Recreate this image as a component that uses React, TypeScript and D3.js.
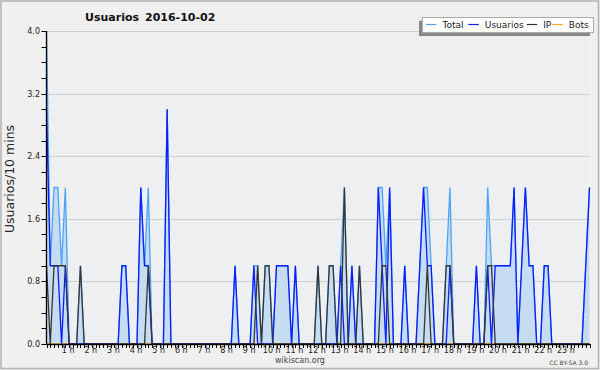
import React from 'react';
import * as d3 from 'd3';

// ---- data (10-minute steps, 00:00 .. 24:00) ----
const usuarios = [
  3,1,1,1,0,1,0,0,0,0,
  0,0,0,0,0,0,0,0,0,0,
  1,1,0,0,0,2,1,1,0,0,
  0,0,3,0,0,0,0,0,0,0,
  0,0,0,0,0,0,0,0,0,0,
  1,0,0,0,0,1,0,0,0,0,
  0,1,1,1,1,0,1,0,0,0,
  0,0,0,0,0,0,0,0,1,0,
  0,1,0,0,0,0,0,0,2,1,
  0,2,0,0,0,1,0,0,0,1,
  2,1,1,0,0,0,0,1,0,0,
  0,0,0,0,1,0,0,1,0,1,
  1,1,1,1,2,0,1,2,1,1,
  0,0,1,1,0,0,0,0,0,0,
  0,0,0,1,2,
];
const ip = [
  1,0,1,1,1,1,0,0,0,1,
  0,0,0,0,0,0,0,0,0,0,
  0,0,0,0,0,0,0,1,0,0,
  0,0,0,0,0,0,0,0,0,0,
  0,0,0,0,0,0,0,0,0,0,
  0,0,0,0,0,0,1,0,1,1,
  0,0,0,0,0,0,0,0,0,0,
  0,0,1,0,0,1,1,0,0,2,
  0,0,0,1,0,0,0,0,0,1,
  1,0,0,0,0,0,0,0,0,0,
  0,1,0,0,0,0,1,1,0,0,
  0,0,0,0,0,0,0,1,1,0,
  0,0,0,0,0,0,0,0,0,0,
  0,0,0,0,0,0,0,0,0,0,
  0,0,0,0,0,
];
const total = [
  4,1,2,2,1,2,0,0,0,1,
  0,0,0,0,0,0,0,0,0,0,
  1,1,0,0,0,2,1,2,0,0,
  0,0,3,0,0,0,0,0,0,0,
  0,0,0,0,0,0,0,0,0,0,
  1,0,0,0,0,1,1,0,1,1,
  0,1,1,1,1,0,1,0,0,0,
  0,0,1,0,0,1,1,0,1,2,
  0,1,0,1,0,0,0,0,2,2,
  1,2,0,0,0,1,0,0,0,1,
  2,2,1,0,0,0,1,2,0,0,
  0,0,0,0,1,0,0,2,1,1,
  1,1,1,1,2,0,1,2,1,1,
  0,0,1,1,0,0,0,0,0,0,
  0,0,0,1,2,
];
const bots = [
  0,0,0,0,0,0,0,0,0,0, 0,0,0,0,0,0,0,0,0,0, 0,0,0,0,0,0,0,0,0,0,
  0,0,0,0,0,0,0,0,0,0, 0,0,0,0,0,0,0,0,0,0, 0,0,0,0,0,0,0,0,0,0,
  0,0,0,0,0,0,0,0,0,0, 0,0,0,0,0,0,0,0,0,0, 0,0,0,0,0,0,0,0,0,0,
  0,0,0,0,0,0,0,0,0,0, 0,0,0,0,0,0,0,0,0,0, 0,0,0,0,0,0,0,0,0,0,
  0,0,0,0,0,0,0,0,0,0, 0,0,0,0,0,0,0,0,0,0, 0,0,0,0,0,
];
const yLabelTicks = [0, 0.8, 1.6, 2.4, 3.2, 4.0];
const hourLabels = [
  '1 h','2 h','3 h','4 h','5 h','6 h','7 h','8 h','9 h','10 h','11 h','12 h',
  '13 h','14 h','15 h','16 h','17 h','18 h','19 h','20 h','21 h','22 h','23 h',
];
const legendNames = ['Total', 'Usuarios', 'IP', 'Bots'];
const title = 'Usuarios';
const dateText = '2016-10-02';
const yAxisTitle = 'Usuarios/10 mins';

const COLORS = { total: '#4da3f5', fill: '#c5dcf1', usuarios: '#0a1eff', ip: '#353535', bots: '#ffa21a' };
const FONT = 'DejaVu Sans, Verdana, sans-serif';

export default function App() {
  const L = 46.5, R = 589.5, T = 31, B = 344;
  const x = d3.scaleLinear().domain([0, total.length - 1]).range([L, R]);
  const y = d3.scaleLinear().domain([0, 4]).range([B, T]);
  const idx = d3.range(total.length);
  const mk = (arr: number[]) => d3.line<number>().x(i => x(i)).y(i => y(arr[i]))(idx) || '';
  const areaPath = d3.area<number>().x(i => x(i)).y0(y(0)).y1(i => y(total[i]))(idx) || '';
  const minorY = d3.range(0, 4.0001, 0.2);
  const legendColors = [COLORS.total, COLORS.usuarios, COLORS.ip, COLORS.bots];
  const legendX = [426, 468.3, 526.7, 552.3];

  return (
    <svg width={600} height={370} style={{ position: 'absolute', left: 0, top: 0 }} fontFamily={FONT}>
      <rect x={0} y={0} width={600} height={370} fill="#f0f0f0" />
      <rect x={1} y={1} width={597.5} height={367.5} fill="none" stroke="#b3b3b3" strokeWidth={1.5} />
      <rect x={L} y={T} width={R - L} height={B - T} fill="#eeeff1" />
      {yLabelTicks.map(v => (
        <line key={'g' + v} x1={L} x2={R + 0.5} y1={Math.round(y(v)) + 0.5} y2={Math.round(y(v)) + 0.5} stroke="#cfcfcf" strokeWidth={1} />
      ))}
      <path d={areaPath} fill={COLORS.fill} />
      <path d={mk(total)} fill="none" stroke={COLORS.total} strokeWidth={1.3} />
      <path d={mk(bots)} fill="none" stroke={COLORS.bots} strokeWidth={1.3} />
      <path d={mk(usuarios)} fill="none" stroke={COLORS.usuarios} strokeWidth={1.3} />
      <path d={mk(ip)} fill="none" stroke={COLORS.ip} strokeWidth={1.3} />
      {/* axes */}
      <line x1={L} x2={L} y1={T} y2={B + 0.5} stroke="#000" strokeWidth={1.3} />
      <line x1={L} x2={R + 0.5} y1={B + 0.5} y2={B + 0.5} stroke="#000" strokeWidth={1.3} />
      {minorY.map(v => (
        <line key={'yt' + v} x1={L - 5} x2={L} y1={Math.round(y(v)) + 0.5} y2={Math.round(y(v)) + 0.5} stroke="#000" strokeWidth={1} />
      ))}
      {yLabelTicks.map(v => (
        <text key={'yl' + v} x={40} y={y(v) + 3} fontSize={8} textAnchor="end" fill="#222">{v.toFixed(1)}</text>
      ))}
      {idx.map(i => (
        <line key={'xt' + i} x1={Math.round(x(i)) + 0.5} x2={Math.round(x(i)) + 0.5} y1={B} y2={B + 4} stroke="#000" strokeWidth={1} />
      ))}
      {hourLabels.map((h, k) => (
        <text key={h} x={x((k + 1) * 6) - 1} y={353} fontSize={8} textAnchor="middle" fill="#222">{h}</text>
      ))}
      {/* titles */}
      <text x={85} y={21} fontSize={11} fontWeight="bold" fill="#111">{title}</text>
      <text x={145} y={21} fontSize={11} fontWeight="bold" fill="#111">{dateText}</text>
      <text transform="translate(14,179) rotate(-90)" fontSize={12.5} textAnchor="middle" fill="#222">{yAxisTitle}</text>
      <text x={300} y={363} fontSize={8} textAnchor="middle" fill="#444">wikiscan.org</text>
      <text x={588} y={365} fontSize={6} textAnchor="end" fill="#444">CC BY-SA 3.0</text>
      {/* legend */}
      <rect x={419} y={20.7} width={171} height={15.3} fill="#888" />
      <rect x={422.5} y={17.5} width={171} height={15} fill="#fff" stroke="#aaa" strokeWidth={1} />
      {legendNames.map((n, k) => (
        <g key={n}>
          <line x1={legendX[k]} x2={legendX[k] + 10.5} y1={24.5} y2={24.5} stroke={legendColors[k]} strokeWidth={1.2} />
          <text x={legendX[k] + 16.5} y={28.3} fontSize={9} fill="#222">{n}</text>
        </g>
      ))}
    </svg>
  );
}
